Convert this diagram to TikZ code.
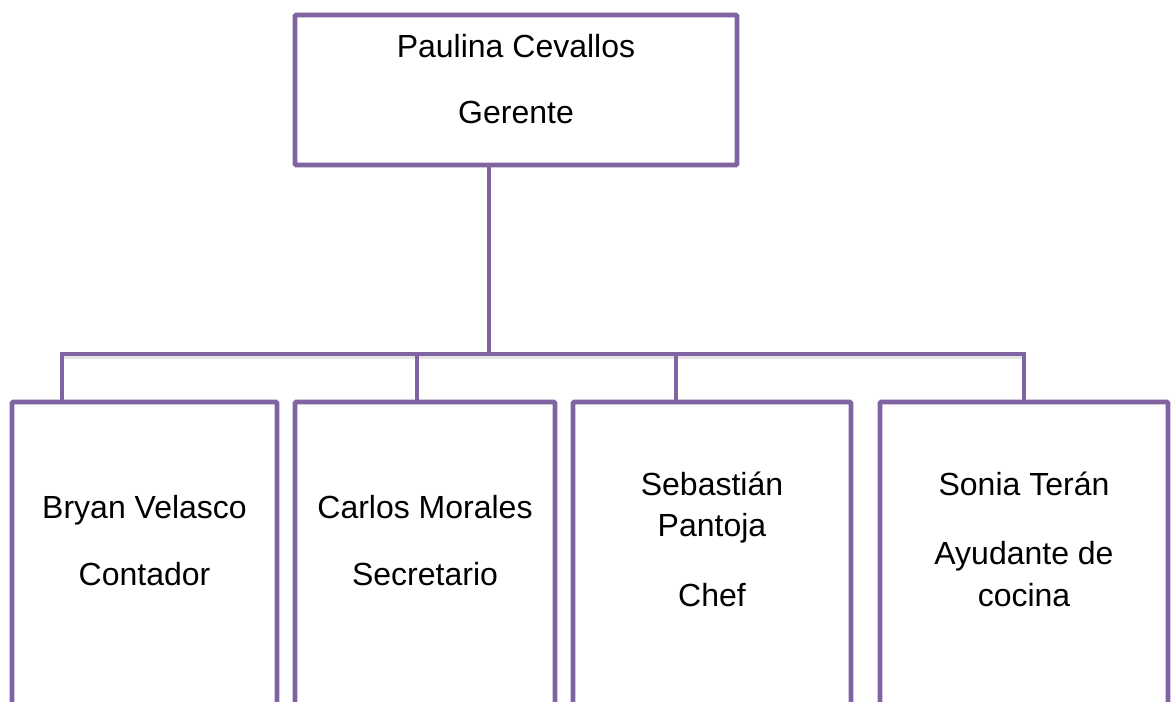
\documentclass[tikz,border=0pt]{standalone}
\usepackage{fontspec}
\setmainfont{Liberation Sans}
\definecolor{orgpurple}{HTML}{8064A2}
\begin{document}
\begin{tikzpicture}[x=0.5pt,y=-0.5pt,
  box/.style={draw=orgpurple, line width=2.4pt, rounded corners=0.6pt, fill=none, inner sep=0pt, outer sep=0pt},
  conn/.style={draw=orgpurple, line width=2.4pt},
  shade/.style={draw=black!10, line width=2.6pt},
  txt/.style={anchor=base, inner sep=0pt, font=\fontsize{16pt}{19pt}\selectfont}]
\clip (0,0) rectangle (1175,702);
\fill[white] (0,0) rectangle (1175,702);

% boxes
\node[box, minimum width=221pt, minimum height=75pt] (ger) at (516,90) {};
\node[box, minimum width=132.5pt, minimum height=180pt] (b1) at (144.5,582) {};
\node[box, minimum width=130pt, minimum height=180pt] (b2) at (425,582) {};
\node[box, minimum width=139pt, minimum height=180pt] (b3) at (712,582) {};
\node[box, minimum width=144pt, minimum height=180pt] (b4) at (1024,582) {};

% connector coordinates
\coordinate (L) at (62,354);
\coordinate (J) at (489,354);
\coordinate (M2) at (417,354);
\coordinate (M3) at (676,354);
\coordinate (R) at (1024,354);

% soft shadow under the bus
\draw[shade] ([yshift=-1.4pt]L) -- ([yshift=-1.4pt]R);

% connectors
\draw[conn] (ger.south -| J) -- (J);
\draw[conn] (b1.north -| L) -- (L) -- (R) -- (b4.north);
\draw[conn] (M2) -- (b2.north -| M2);
\draw[conn] (M3) -- (b3.north -| M3);

% texts
\node[txt] (g1) at (516,57) {Paulina Cevallos};
\node[txt] (g2) at (516,123) {Gerente};
\node[txt] (a1) at (144.5,518) {Bryan Velasco};
\node[txt] (a2) at (144.5,585) {Contador};
\node[txt] (c1) at (425,518) {Carlos Morales};
\node[txt] (c2) at (425,585) {Secretario};
\node[txt] (s1) at (712,495) {Sebastián};
\node[txt] (s2) at (712,536) {Pantoja};
\node[txt] (s3) at (712,606) {Chef};
\node[txt] (t1) at (1024,495) {Sonia Terán};
\node[txt] (t2) at (1024,564) {Ayudante de};
\node[txt] (t3) at (1024,606) {cocina};
\end{tikzpicture}
\end{document}
